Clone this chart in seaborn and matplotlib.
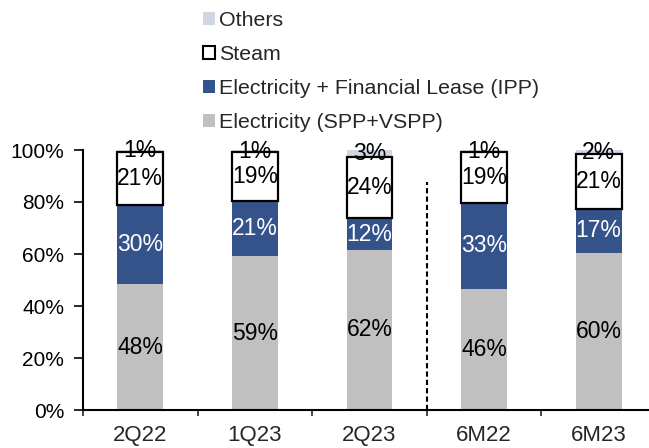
import matplotlib
matplotlib.use("Agg")
import matplotlib.pyplot as plt
from matplotlib.patches import Patch
from matplotlib.ticker import PercentFormatter, FixedLocator, NullFormatter
import numpy as np
import pandas as pd
import seaborn as sns

categories = ["2Q22", "1Q23", "2Q23", "6M22", "6M23"]
spp = [48.3, 59.2, 61.6, 46.4, 60.4]     # Electricity (SPP+VSPP)
ipp = [30.4, 21.0, 12.1, 33.4, 16.9]     # Electricity + Financial Lease (IPP)
steam = [20.6, 19.0, 23.6, 19.3, 21.0]   # Steam
others = [0.7, 0.8, 2.7, 0.9, 1.7]       # Others

series_names = ["Electricity (SPP+VSPP)", "Electricity + Financial Lease (IPP)", "Steam", "Others"]

sns.set_style("white")
plt.rcParams["font.family"] = ["Liberation Sans", "DejaVu Sans"]
FS = 15
FS_LAB = 16.5
FS_X = 16
FS_LEG = 15.4

fig = plt.figure(figsize=(6.49, 4.48), dpi=100)
ax = fig.add_axes([83 / 649, 1 - 410 / 448, 566 / 649, 260 / 448])

c_spp = "#C0C0C0"
c_ipp = "#34538A"
c_oth = "#D0D6E2"

df = pd.DataFrame({"cat": categories, "spp": spp, "ipp": ipp, "steam": steam, "others": others})
b1 = np.zeros(len(categories))
b2 = b1 + df["spp"].values
b3 = b2 + df["ipp"].values
b4 = b3 + df["steam"].values

W = 0.4
sns.barplot(data=df, x="cat", y="spp", ax=ax, order=categories, width=W,
            bottom=b1, color=c_spp, saturation=1, linewidth=0, errorbar=None)
sns.barplot(data=df, x="cat", y="ipp", ax=ax, order=categories, width=W,
            bottom=b2, color=c_ipp, saturation=1, linewidth=0, errorbar=None)
sns.barplot(data=df, x="cat", y="others", ax=ax, order=categories, width=W,
            bottom=b4, color=c_oth, saturation=1, linewidth=0, errorbar=None)
sns.barplot(data=df, x="cat", y="steam", ax=ax, order=categories, width=W,
            bottom=b3, color="white", saturation=1, edgecolor="black", linewidth=1.6, errorbar=None)

# labels
for i in range(len(categories)):
    ax.text(i, b1[i] + spp[i] / 2, f"{spp[i]:.0f}%", ha="center", va="center", fontsize=FS_LAB, color="black")
    ax.text(i, b2[i] + ipp[i] / 2, f"{ipp[i]:.0f}%", ha="center", va="center", fontsize=FS_LAB, color="white")
    ax.text(i, b3[i] + steam[i] / 2, f"{steam[i]:.0f}%", ha="center", va="center", fontsize=FS_LAB, color="black")
    ax.text(i, b4[i] + others[i] / 2, f"{others[i]:.0f}%", ha="center", va="center", fontsize=FS_LAB, color="black")

# separator
ax.plot([2.5, 2.5], [0, 87.5], color="black", lw=1.5, ls=(0, (2.5, 1.5)), zorder=5)

ax.set_xlim(-0.5, 4.44)
ax.set_ylim(0, 100)
ax.set_xlabel("")
ax.set_ylabel("")
ax.yaxis.set_major_locator(FixedLocator([0, 20, 40, 60, 80, 100]))
ax.yaxis.set_major_formatter(PercentFormatter(100, decimals=0))
ax.tick_params(axis="y", which="major", direction="out", length=6.5, width=1.2,
               labelsize=FS, pad=7, left=True, colors="black")

ax.xaxis.set_major_locator(FixedLocator([-0.5, 0.5, 1.5, 2.5, 3.5]))
ax.xaxis.set_major_formatter(NullFormatter())
ax.xaxis.set_minor_locator(FixedLocator(list(range(len(categories)))))
ax.set_xticklabels(categories, minor=True)
ax.tick_params(axis="x", which="major", direction="out", length=4, width=1.2, bottom=True)
ax.tick_params(axis="x", which="minor", length=0, labelsize=FS_X, pad=11)

for s in ["top", "right"]:
    ax.spines[s].set_visible(False)
for s in ["left", "bottom"]:
    ax.spines[s].set_color("black")
    ax.spines[s].set_linewidth(1.5)
ax.grid(False)

handles = [
    Patch(facecolor=c_oth, edgecolor="none", label="Others"),
    Patch(facecolor="white", edgecolor="black", linewidth=1.5, label="Steam"),
    Patch(facecolor=c_ipp, edgecolor="none", label="Electricity + Financial Lease (IPP)"),
    Patch(facecolor=c_spp, edgecolor="none", label="Electricity (SPP+VSPP)"),
]
fig.legend(handles=handles, loc="upper left", bbox_to_anchor=(203 / 649, 0.975),
           frameon=False, fontsize=FS_LEG, handlelength=0.55, handleheight=0.55,
           handletextpad=0.2, labelspacing=0.7, borderpad=0, borderaxespad=0)

fig.savefig("out.png", dpi=100)
